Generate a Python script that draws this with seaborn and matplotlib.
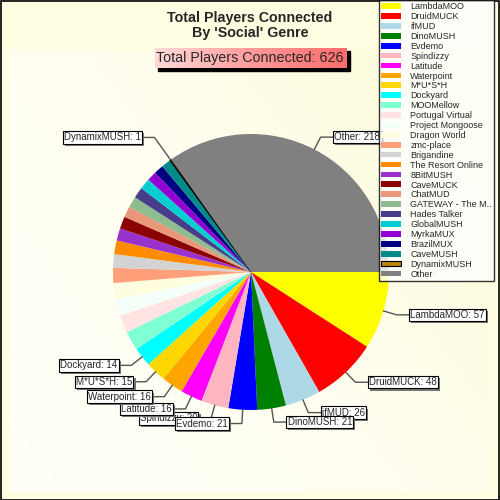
import numpy as np
import matplotlib
matplotlib.use("Agg")
import matplotlib.pyplot as plt
import matplotlib.patheffects as pe
import seaborn as sns
from matplotlib.patches import Patch
from matplotlib.colors import LinearSegmentedColormap

# datos
juegos = ["LambdaMOO", "DruidMUCK", "ifMUD", "DinoMUSH", "Evdemo", "Spindizzy",
          "Latitude", "Waterpoint", "M*U*S*H", "Dockyard", "MOOMellow",
          "Portugal Virtual", "Project Mongoose", "Dragon World", "zmc-place",
          "Brigandine", "The Resort Online", "8BitMUSH", "CaveMUCK", "ChatMUD",
          "GATEWAY - The M..", "Hades Talker", "GlobalMUSH", "MyrkaMUX",
          "BrazilMUX", "CaveMUSH", "DynamixMUSH", "Other"]
jugadores = [57, 48, 26, 21, 21, 20, 16, 16, 15, 14, 14, 13, 12, 12, 11, 10,
             10, 9, 9, 8, 8, 8, 8, 7, 7, 7, 1, 218]
colores = ["#ffff00", "#ff0000", "#add8e6", "#008000", "#0000ff", "#ffb6c1",
           "#ff00ff", "#ffa500", "#ffd700", "#00ffff", "#7fffd4", "#ffe4e1",
           "#f5fffa", "#fffde0", "#ffa07a", "#d3d3d3", "#ff8c00", "#9932cc",
           "#8b0000", "#e9967a", "#8fbc8f", "#483d8b", "#00ced1", "#9400d3",
           "#000080", "#008b8b", "#b8860b", "#808080"]
con_etiqueta = ["LambdaMOO", "DruidMUCK", "ifMUD", "DinoMUSH", "Evdemo",
                "Spindizzy", "Latitude", "Waterpoint", "M*U*S*H", "Dockyard",
                "DynamixMUSH", "Other"]
total = sum(jugadores)

sns.set_theme(style="white")
plt.rcParams["font.family"] = ["Liberation Sans", "DejaVu Sans"]

fig = plt.figure(figsize=(5, 5), dpi=100)
fig.patch.set_facecolor("#fffde2")

# fondo con degradado
fondo = fig.add_axes([9 / 500, 8 / 500, 483 / 500, 442 / 500], zorder=0)
cmap = LinearSegmentedColormap.from_list("fondo", ["#fffff8", "#fffef0", "#fdfbd6"])
gx, gy = np.meshgrid(np.linspace(0, 1, 200), np.linspace(0, 1, 200))
fondo.imshow(0.6 * gx + 0.4 * gy, cmap=cmap, aspect="auto", origin="lower")
fondo.set_axis_off()

# borde exterior
fig.add_artist(plt.Rectangle((0.001, 0.001), 0.997, 0.997, transform=fig.transFigure,
                             fill=False, edgecolor="black", linewidth=1.2))

R = 138
cx, cy = 251, 272
ax = fig.add_axes([(cx - R) / 500, (500 - cy - R) / 500, 2 * R / 500, 2 * R / 500], zorder=2)
wedges, _ = ax.pie(jugadores, colors=colores, startangle=0, counterclock=False,
                   radius=1, wedgeprops=dict(linewidth=0))
ax.set_xlim(-1, 1)
ax.set_ylim(-1, 1)
ax.set_aspect("equal")
ax.set_axis_off()

idx_dyn = juegos.index("DynamixMUSH")
wedges[idx_dyn].set_edgecolor("black")
wedges[idx_dyn].set_linewidth(0.8)

# etiquetas con lineas guia
sombra = [pe.SimplePatchShadow(offset=(1.5, -1.5), shadow_rgbFace="#777777", alpha=1), pe.Normal()]
for w, nombre, valor in zip(wedges, juegos, jugadores):
    if nombre not in con_etiqueta:
        continue
    ang = np.deg2rad((w.theta1 + w.theta2) / 2)
    r_codo = 1.2 if valor < 5 else 1.1
    x0, y0 = np.cos(ang), np.sin(ang)
    x1, y1 = r_codo * x0, r_codo * y0
    lado = 1 if x0 >= 0 else -1
    x2 = x1 + lado * 0.1
    ax.plot([x0, x1, x2], [y0, y1, y1], color="#555555", lw=1, clip_on=False, zorder=3)
    t = ax.text(x2, y1, f"{nombre}: {valor}", fontsize=7,
                ha="left" if lado > 0 else "right", va="center", clip_on=False,
                zorder=3.5 if nombre == "Spindizzy" else 4,
                bbox=dict(boxstyle="square,pad=0.12", facecolor="white", edgecolor="black",
                          linewidth=0.8))
    t.get_bbox_patch().set_path_effects(sombra)

# titulos
fig.text(0.5, 0.964, "Total Players Connected", ha="center", va="center",
         fontsize=10.3, fontweight="bold")
fig.text(0.5, 0.933, "By 'Social' Genre", ha="center", va="center",
         fontsize=10.3, fontweight="bold")

# caja del total con sombra y degradado
fig.add_artist(plt.Rectangle((158 / 500, 1 - 71 / 500), 192 / 500, 20 / 500,
                             transform=fig.transFigure, color="black", zorder=4))
caja = fig.add_axes([155 / 500, 1 - 68 / 500, 192 / 500, 20 / 500], zorder=5)
rosa = LinearSegmentedColormap.from_list("rosa", ["#ffd8d8", "#ff9a9a", "#ff6c6c"])
caja.imshow(np.linspace(0, 1, 100)[None, :], cmap=rosa, aspect="auto")
caja.set_axis_off()
fig.text(0.5, 1 - 58 / 500, f"Total Players Connected: {total}", ha="center", va="center",
         fontsize=10.3, zorder=6)

# leyenda
handles = []
for nombre, c in zip(juegos, colores):
    if nombre == "DynamixMUSH":
        handles.append(Patch(facecolor=c, edgecolor="black", linewidth=0.8, label=nombre))
    else:
        handles.append(Patch(facecolor=c, edgecolor="none", label=nombre))
ley = fig.legend(handles=handles, loc="upper left", bbox_to_anchor=(379 / 500, 1.0),
                 fontsize=6.5, frameon=True, fancybox=False, labelspacing=0.1,
                 handlelength=2.2, handleheight=0.6, handletextpad=1.0,
                 borderpad=0.25, borderaxespad=0)
ley.get_frame().set_edgecolor("black")
ley.get_frame().set_linewidth(1)
ley.get_frame().set_facecolor("white")
ley.set_zorder(6)

fig.savefig("out.png", dpi=100, facecolor=fig.get_facecolor())
